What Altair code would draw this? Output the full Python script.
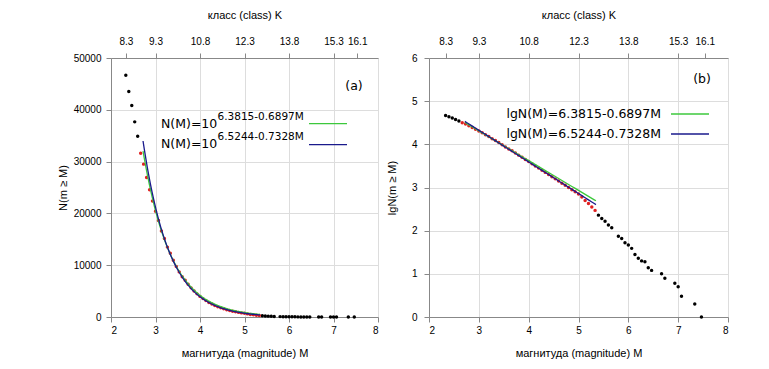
import altair as alt
import pandas as pd
import numpy as np

# ---- data ----
K_labels = [8.3, 9.3, 10.8, 12.3, 13.8, 15.3, 16.1]   # top axis (class K)

# observed points outside the fit range (black)
M_black = [2.333, 2.4, 2.467, 2.533, 2.6,
           5.4, 5.467, 5.533, 5.6, 5.667, 5.8, 5.867, 5.933, 6.0, 6.067,
           6.133, 6.2, 6.267, 6.333, 6.4, 6.467, 6.667, 6.733, 6.933, 7.0,
           7.067, 7.333, 7.467]
lg_black = [4.669, 4.639, 4.611, 4.576, 4.543,
            2.36, 2.28, 2.22, 2.13, 2.07, 1.87, 1.82, 1.72, 1.67, 1.59,
            1.45, 1.36, 1.30, 1.28, 1.14, 1.08, 1.00, 0.90, 0.78, 0.70,
            0.48, 0.30, 0.00]

# observed points inside the fit range (red)
M_red = [2.667, 2.733, 2.8, 2.867, 2.933, 3.0, 3.067, 3.133, 3.2, 3.267,
         3.333, 3.4, 3.467, 3.533, 3.6, 3.667, 3.733, 3.8, 3.867, 3.933,
         4.0, 4.067, 4.133, 4.2, 4.267, 4.333, 4.4, 4.467, 4.533, 4.6,
         4.667, 4.733, 4.8, 4.867, 4.933, 5.0, 5.067, 5.133, 5.2, 5.267, 5.333]
lg_red = [4.50, 4.47, 4.43, 4.39, 4.35, 4.31, 4.27, 4.22, 4.18, 4.13,
          4.09, 4.04, 3.99, 3.94, 3.89, 3.85, 3.80, 3.75, 3.70, 3.65,
          3.60, 3.55, 3.50, 3.45, 3.40, 3.35, 3.30, 3.25, 3.20, 3.15,
          3.10, 3.05, 3.00, 2.95, 2.90, 2.85, 2.78, 2.70, 2.63, 2.55, 2.47]

# fitted laws lgN = a - b*M
fit_exprs = ["6.3815-0.6897M", "6.5244-0.7328M"]
fit_a = [6.3815, 6.5244]
fit_b = [0.6897, 0.7328]
fit_colors = ["#3cc83c", "#1a1a8c"]
fit_range = [2.72, 5.35]

FONT = "DejaVu Sans"

# ---- tables ----
black = pd.DataFrame({"M": M_black, "lg": lg_black})
black["N"] = np.round(10 ** black["lg"])
red = pd.DataFrame({"M": M_red, "lg": lg_red})
red["N"] = np.round(10 ** red["lg"])

rows = []
Ms = np.linspace(fit_range[0], fit_range[1], 80)
for e, a, b in zip(fit_exprs, fit_a, fit_b):
    for m in Ms:
        lg = a - b * m
        rows.append({"fit": e, "M": m, "lg": lg, "N": 10 ** lg})
fits = pd.DataFrame(rows)

top_ticks = pd.DataFrame({"M": [(k - 4.8) / 1.5 for k in K_labels]})

xscale = alt.Scale(domain=[2, 8], nice=False, zero=False)
color_scale = alt.Scale(domain=fit_exprs, range=fit_colors)

x_bottom = alt.Axis(orient="bottom", values=[2, 3, 4, 5, 6, 7, 8], format="d",
                    title="магнитуда (magnitude) M", grid=True,
                    labelPadding=3, titlePadding=12, titleFontWeight="normal")
x_top = alt.Axis(orient="top", values=top_ticks["M"].tolist(),
                 labelExpr="format(1.5*datum.value+4.8, '.1f')",
                 title="класс (class) K", grid=False,
                 labelPadding=7, titlePadding=16, titleFontWeight="normal")


def panel(yfield, ydomain, yvalues, ytitle, width, ytitlepad, ylabpad, extra):
    ys = alt.Scale(domain=ydomain, nice=False, zero=False)
    yaxis = alt.Axis(values=yvalues, format="d", title=ytitle, grid=True,
                     labelPadding=ylabpad, titlePadding=ytitlepad,
                     titleFontWeight="normal")
    pts_b = alt.Chart(black).mark_circle(size=12, color="black", opacity=1).encode(
        x=alt.X("M:Q", scale=xscale, axis=x_bottom),
        y=alt.Y(f"{yfield}:Q", scale=ys, axis=yaxis),
    )
    lines = alt.Chart(fits).mark_line(strokeWidth=1.3).encode(
        x=alt.X("M:Q", scale=xscale, axis=None),
        y=alt.Y(f"{yfield}:Q", scale=ys),
        color=alt.Color("fit:N", scale=color_scale, legend=None),
        detail="fit:N",
    )
    pts_r = alt.Chart(red).mark_circle(size=12, color="#e02020", opacity=1).encode(
        x=alt.X("M:Q", scale=xscale, axis=None),
        y=alt.Y(f"{yfield}:Q", scale=ys),
    )
    top = alt.Chart(top_ticks).mark_point(opacity=0).encode(
        x=alt.X("M:Q", scale=xscale, axis=x_top),
        y=alt.value(0),
    )
    return alt.layer(pts_b, pts_r, lines, top, *extra).resolve_axis(
        x="independent").properties(width=width, height=259)


def txt(s, x, y, size=12.5, align="left"):
    return alt.Chart(pd.DataFrame({"t": [s]})).mark_text(
        font=FONT, fontSize=size, align=align, baseline="middle", color="black"
    ).encode(x=alt.value(x), y=alt.value(y), text="t:N")


def seg(x1, x2, y, c):
    return alt.Chart(pd.DataFrame({"c": [c]})).mark_rule(
        color=c, strokeWidth=1.3
    ).encode(x=alt.value(x1), x2=alt.value(x2), y=alt.value(y))


extra_a = [
    txt("(a)", 243, 28, align="center"),
    txt("N(M)=10", 50, 65.5), txt(fit_exprs[0], 106.5, 58.5, size=10.5),
    seg(198, 236, 65.7, fit_colors[0]),
    txt("N(M)=10", 50, 85.5), txt(fit_exprs[1], 106.5, 79, size=10.5),
    seg(198, 236, 86.7, fit_colors[1]),
]
extra_b = [
    txt("(b)", 273, 21, align="center"),
    txt("lgN(M)=" + fit_exprs[0], 232, 56, align="right"),
    seg(242, 280, 56, fit_colors[0]),
    txt("lgN(M)=" + fit_exprs[1], 232, 76, align="right"),
    seg(242, 280, 76, fit_colors[1]),
]

left = panel("N", [0, 50000], [0, 10000, 20000, 30000, 40000, 50000],
             "N(m ≥ M)", 267, 5, 5, extra_a)
right = panel("lg", [0, 6], [0, 1, 2, 3, 4, 5, 6],
              "lgN(m ≥ M)", 299, 14, 7, extra_b)

chart = alt.hconcat(left, right, spacing=6).properties(
    padding={"left": 48, "top": 0, "right": 0, "bottom": 0}
).configure_view(
    stroke="black", strokeWidth=1
).configure_axis(
    labelFont=FONT, titleFont=FONT, labelFontSize=11, titleFontSize=12,
    titleFontWeight="normal", labelColor="black", titleColor="black",
    domain=False, ticks=False,
    gridColor="black", gridDash=[3, 3], gridWidth=0.8, gridOpacity=1,
).configure(background="white")

chart.save("out.html", embed_options={"renderer": "svg", "actions": False})
